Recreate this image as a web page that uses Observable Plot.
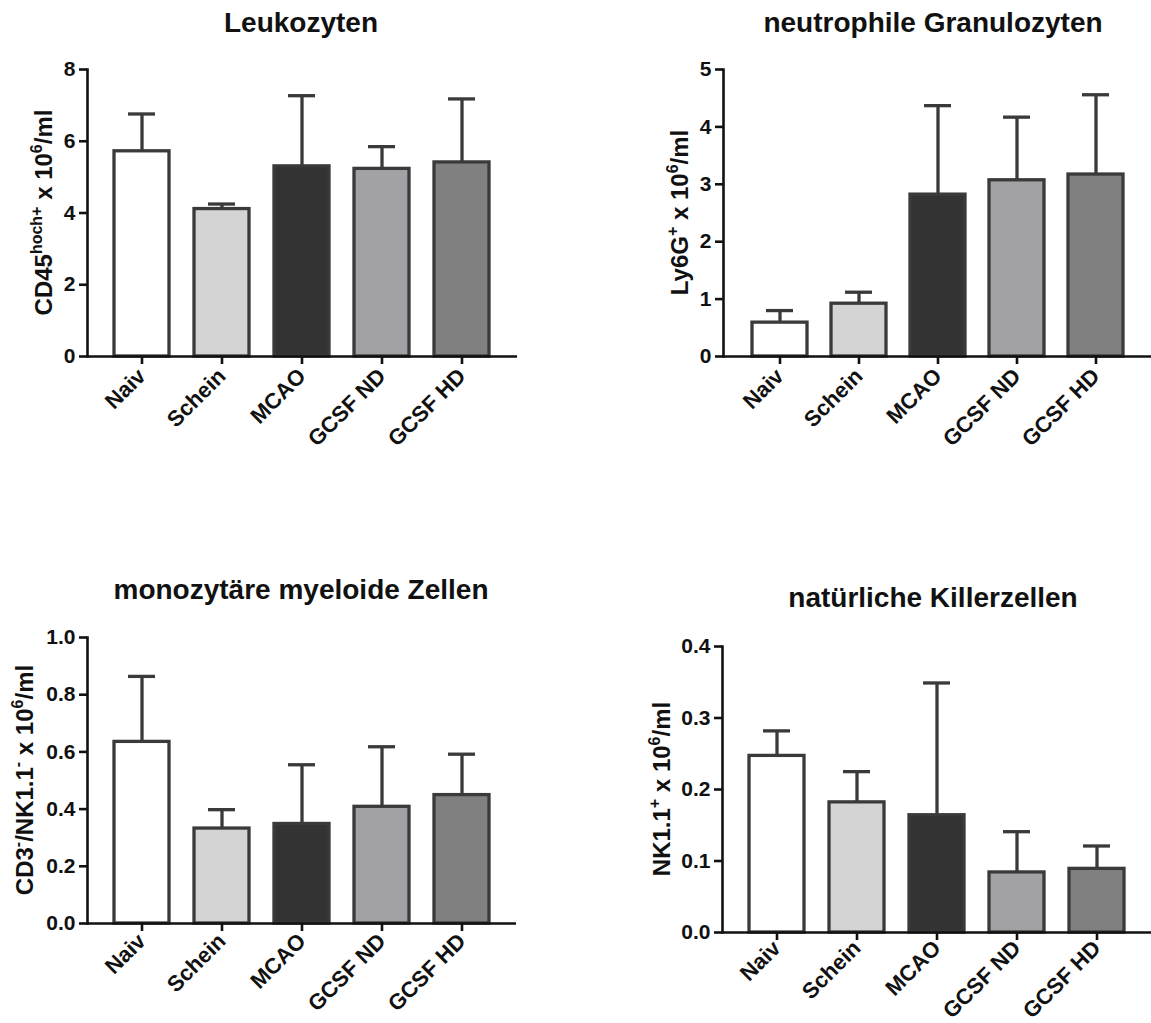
<!DOCTYPE html>
<html>
<head>
<meta charset="utf-8">
<script src="https://cdn.jsdelivr.net/npm/d3@7"></script>
<script src="https://cdn.jsdelivr.net/npm/@observablehq/plot@0.6"></script>
<style>
  html, body { margin: 0; padding: 0; background: #fff; }
  #root { position: relative; width: 1151px; height: 1023px; overflow: hidden; background: #fff; }
  .panel { position: absolute; }
  .title { position: absolute; width: 600px; text-align: center; font-family: 'Liberation Sans', Arial, Helvetica, sans-serif; font-weight: bold; font-size: 28px; line-height: 28px; color: #111; white-space: nowrap; }
</style>
</head>
<body>
<div id="root"></div>
<script>
// ---------- data ----------
const categories = ["Naiv", "Schein", "MCAO", "GCSF ND", "GCSF HD"];
const barColors = ["#ffffff", "#d4d4d4", "#333333", "#a2a2a6", "#808080"];

const leukoMean = [5.72, 4.11, 5.30, 5.23, 5.41];
const leukoSD   = [1.04, 0.14, 1.97, 0.62, 1.77];

const neutroMean = [0.59, 0.92, 2.82, 3.07, 3.17];
const neutroSD   = [0.21, 0.20, 1.55, 1.10, 1.39];

const monoMean = [0.635, 0.332, 0.348, 0.408, 0.449];
const monoSD   = [0.229, 0.066, 0.207, 0.210, 0.143];

const nkMean = [0.247, 0.182, 0.164, 0.084, 0.089];
const nkSD   = [0.035, 0.043, 0.185, 0.057, 0.032];

const titles = ["Leukozyten", "neutrophile Granulozyten", "monozytäre myeloide Zellen", "natürliche Killerzellen"];
const yTicks1 = [0, 2, 4, 6, 8];
const yTicks2 = [0, 1, 2, 3, 4, 5];
const yTicks3 = [0, 0.2, 0.4, 0.6, 0.8, 1.0];
const yTicks4 = [0, 0.1, 0.2, 0.3, 0.4];

// y labels: [text, superscript?]
const yLabel1 = [["CD45", false], ["hoch+", true], [" x 10", false], ["6", true], ["/ml", false]];
const yLabel2 = [["Ly6G", false], ["+", true], [" x 10", false], ["6", true], ["/ml", false]];
const yLabel3 = [["CD3", false], ["-", true], ["/NK1.1", false], ["-", true], [" x 10", false], ["6", true], ["/ml", false]];
const yLabel4 = [["NK1.1", false], ["+", true], [" x 10", false], ["6", true], ["/ml", false]];

// ---------- drawing ----------
const fontFamily = "'Liberation Sans', Arial, Helvetica, sans-serif";
const barStroke = "#3a3a3a";
const axisColor = "#111";
const root = document.getElementById("root");

function addTitle(text, cx, baseline) {
  const d = document.createElement("div");
  d.className = "title";
  d.textContent = text;
  d.style.left = (cx - 300) + "px";
  d.style.top = (baseline - 24) + "px";
  root.appendChild(d);
}

function panel(o) {
  const data = categories.map((c, i) => ({cat: c, mean: o.mean[i], hi: o.mean[i] + o.sd[i]}));
  const plot = Plot.plot({
    width: o.width, height: o.height,
    marginLeft: o.mL, marginRight: o.mR, marginTop: o.mT, marginBottom: o.mB,
    style: {fontFamily, fontWeight: "bold", color: axisColor, background: "transparent", overflow: "visible"},
    x: {domain: categories, paddingInner: 0.31, paddingOuter: 0.33, label: null},
    y: {domain: o.yDomain, label: null},
    color: {domain: categories, range: barColors},
    marks: [
      Plot.ruleX(data, {x: "cat", y1: "mean", y2: "hi", stroke: barStroke, strokeWidth: 3.3}),
      Plot.tickY(data, {x: "cat", y: "hi", stroke: barStroke, strokeWidth: 3.3, inset: 14}),
      Plot.barY(data, {x: "cat", y: "mean", fill: "cat", stroke: barStroke, strokeWidth: 3.3}),
      Plot.ruleY([0], {stroke: axisColor, strokeWidth: 2.6}),
      Plot.frame({anchor: "left", stroke: axisColor, strokeWidth: 2.6}),
      Plot.axisY({ticks: o.yTicks, tickFormat: o.fmt, tickSize: 8, tickPadding: 4, fontSize: 21, stroke: axisColor, strokeWidth: 2.6, label: null}),
      Plot.axisX({tickSize: 8, tickPadding: o.xPad, tickRotate: -45, fontSize: 22, stroke: axisColor, strokeWidth: 2.6, label: null})
    ]
  });
  // rotated y-axis label with superscripts
  const svg = d3.select(plot);
  const cy = (o.mT + (o.height - o.mB)) / 2;
  const t = svg.append("text")
    .attr("transform", `translate(${o.mL + o.labelDX},${cy}) rotate(-90)`)
    .attr("text-anchor", "middle")
    .attr("font-family", fontFamily)
    .attr("font-weight", "bold")
    .attr("font-size", 24)
    .attr("fill", axisColor);
  let up = false;
  for (const [txt, sup] of o.label) {
    const ts = t.append("tspan").text(txt);
    if (sup && !up) { ts.attr("dy", -10).attr("font-size", 16); up = true; }
    else if (sup) { ts.attr("font-size", 16); }
    else if (!sup && up) { ts.attr("dy", 10); up = false; }
  }
  const wrap = document.createElement("div");
  wrap.className = "panel";
  wrap.style.left = o.left + "px";
  wrap.style.top = o.top + "px";
  wrap.appendChild(plot);
  root.appendChild(wrap);
}

const f1 = d3.format("d");
const f2 = d3.format(".1f");

panel({mean: leukoMean, sd: leukoSD, yDomain: [0, 8], yTicks: yTicks1, fmt: f1, label: yLabel1, xPad: 8,
  left: 0, top: 40, width: 530, height: 440, mL: 87, mR: 13, mT: 29, mB: 124, labelDX: -35});
panel({mean: neutroMean, sd: neutroSD, yDomain: [0, 5], yTicks: yTicks2, fmt: f1, label: yLabel2, xPad: 8,
  left: 576, top: 40, width: 575, height: 440, mL: 147, mR: 0, mT: 29, mB: 124, labelDX: -35});
panel({mean: monoMean, sd: monoSD, yDomain: [0, 1], yTicks: yTicks3, fmt: f2, label: yLabel3, xPad: 6,
  left: 0, top: 600, width: 530, height: 423, mL: 87, mR: 14, mT: 37, mB: 100, labelDX: -54});
panel({mean: nkMean, sd: nkSD, yDomain: [0, 0.4], yTicks: yTicks4, fmt: f2, label: yLabel4, xPad: 4,
  left: 576, top: 600, width: 575, height: 423, mL: 146, mR: 0, mT: 46, mB: 91, labelDX: -52});

addTitle(titles[0], 301, 33);
addTitle(titles[1], 933, 33);
addTitle(titles[2], 301, 600);
addTitle(titles[3], 933, 608);
</script>
</body>
</html>
